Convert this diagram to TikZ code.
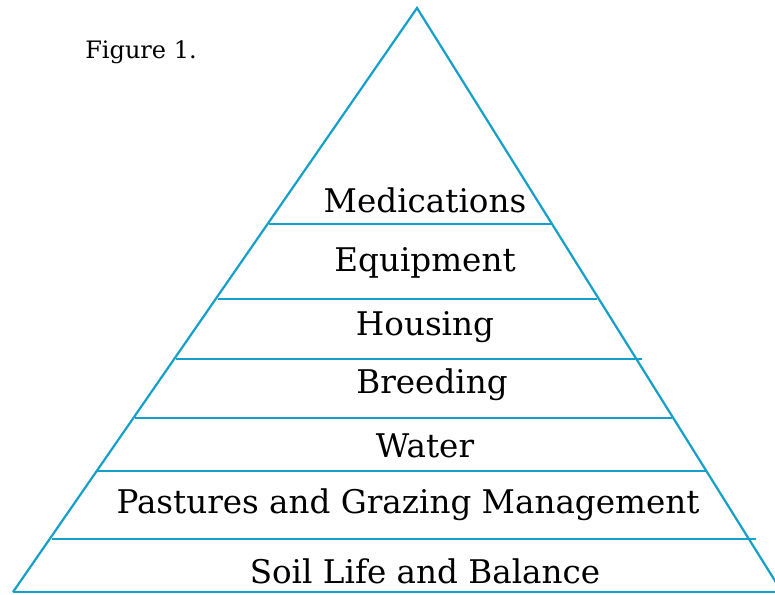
\documentclass[tikz,border=0pt]{standalone}
\usepackage{fontspec}
\setmainfont{DejaVu Serif}
\usepackage{tikz}
\definecolor{tierblue}{RGB}{20,160,200}
\tikzset{
  tier/.style={draw=tierblue,line width=2.2pt},
  tiertext/.style={font=\fontsize{32.6}{38}\selectfont,inner sep=0pt},
  figtext/.style={font=\fontsize{24}{28}\selectfont,inner sep=0pt}
}

\begin{document}
\begin{tikzpicture}[x=1pt,y=-1pt]

  \useasboundingbox (0,0) rectangle (775,594);

  % outline of the pyramid
  \coordinate (apex) at (417,8);
  \coordinate (baseL) at (13,592);
  \coordinate (baseR) at (782,592);
  \draw[tier] (baseL) -- (apex) -- (baseR);
  \draw[tier] (baseL) -- (775,592);

  % tiers
  \foreach \y/\xl/\xr in {224/269/552, 299/218/597, 359/176/642,
                          418/135/672, 471/97/707, 539/52/756}
    \draw[tier] (\xl,\y) -- (\xr,\y);

  \node[figtext] (fig) at (141,52) {Figure 1.};

  \node[tiertext] (medications) at (425,200) {Medications};
  \node[tiertext] (equipment) at (425,263) {Equipment};
  \node[tiertext] (housing) at (425,327) {Housing};
  \node[tiertext] (breeding) at (432,385) {Breeding};
  \node[tiertext] (water) at (425,446) {Water};
  \node[tiertext] (pastures) at (408,505) {Pastures and Grazing Management};
  \node[tiertext] (soil) at (425,571) {Soil Life and Balance};

\end{tikzpicture}
\end{document}
